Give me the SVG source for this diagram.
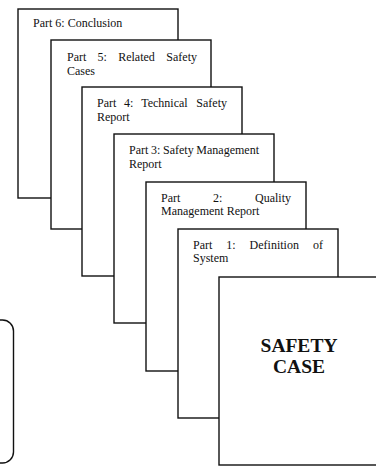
<svg xmlns="http://www.w3.org/2000/svg" width="376" height="466" viewBox="0 0 376 466">
<style>
.pg{fill:#fff;stroke:#111;stroke-width:1.4}
.t{font-family:"Liberation Serif","Times New Roman",serif;font-size:12px;fill:#111}
.e{text-anchor:end}
.big{font-family:"Liberation Serif","Times New Roman",serif;font-size:19.5px;font-weight:bold;fill:#111;text-anchor:middle}
</style>
<rect width="376" height="466" fill="#fff"/>
<g id="side-box">
<rect class="pg" x="-60" y="320" width="73.5" height="143" rx="11"/>
</g>
<g id="part6">
<rect class="pg" x="18" y="9" width="160" height="189"/>
<text class="t" x="33" y="27">Part 6: Conclusion</text>
</g>
<g id="part5">
<rect class="pg" x="51" y="40" width="160" height="189"/>
<text class="t" y="61"><tspan x="67">Part</tspan><tspan x="97.6">5:</tspan><tspan x="118.2">Related</tspan></text>
<text class="t e" x="197" y="61">Safety</text>
<text class="t" x="67" y="74.5">Cases</text>
</g>
<g id="part4">
<rect class="pg" x="82" y="87" width="160" height="189"/>
<text class="t" y="107"><tspan x="97">Part</tspan><tspan x="124.1">4:</tspan><tspan x="141.2">Technical</tspan></text>
<text class="t e" x="227" y="107">Safety</text>
<text class="t" x="97" y="120.5">Report</text>
</g>
<g id="part3">
<rect class="pg" x="114" y="134" width="160" height="189"/>
<text class="t" y="154"><tspan x="129">Part</tspan><tspan x="151">3:</tspan><tspan x="163">Safety</tspan></text>
<text class="t e" x="259" y="154">Management</text>
<text class="t" x="129" y="167.5">Report</text>
</g>
<g id="part2">
<rect class="pg" x="146" y="182" width="160" height="189"/>
<text class="t" y="201.5"><tspan x="161">Part</tspan><tspan x="213">2:</tspan></text>
<text class="t e" x="291" y="201.5">Quality</text>
<text class="t" x="161" y="215">Management Report</text>
</g>
<g id="part1">
<rect class="pg" x="178" y="229" width="160" height="189"/>
<text class="t" y="248.5"><tspan x="193">Part</tspan><tspan x="226.3">1:</tspan><tspan x="249.6">Definition</tspan></text>
<text class="t e" x="323" y="248.5">of</text>
<text class="t" x="193" y="262">System</text>
</g>
<g id="safety-case">
<rect class="pg" x="219" y="277" width="162" height="188"/>
<text class="big" x="299" y="352">SAFETY</text>
<text class="big" x="299" y="373">CASE</text>
</g>
</svg>
